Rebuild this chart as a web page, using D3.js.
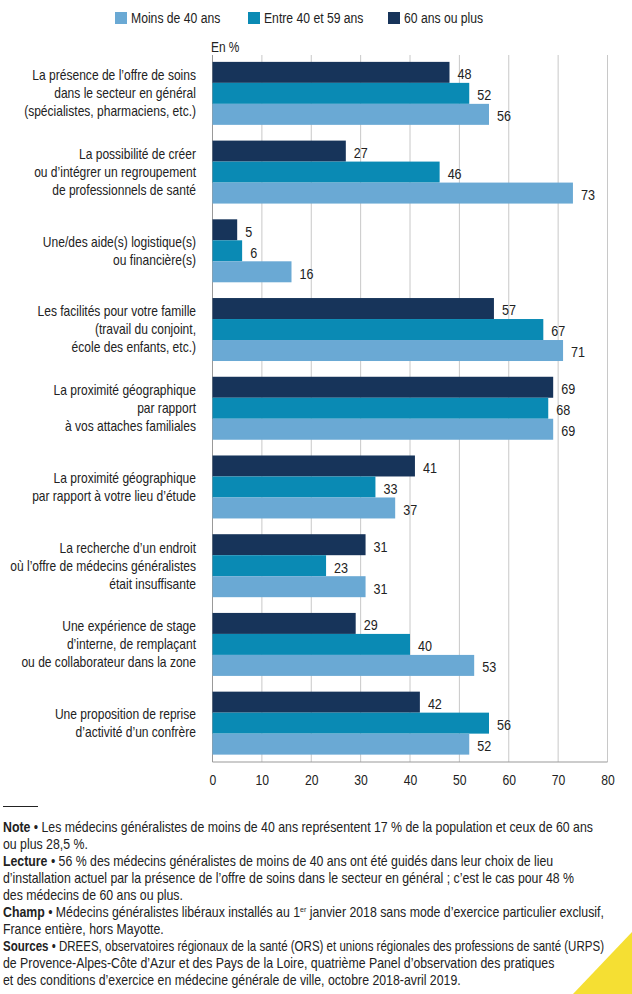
<!DOCTYPE html>
<html><head><meta charset="utf-8">
<script src="https://cdn.jsdelivr.net/npm/d3@7"></script>
<style>
html,body{margin:0;padding:0;background:#fff;}
svg{display:block;font-family:"Liberation Sans",Arial,sans-serif;}
</style></head>
<body><svg id="c" width="632" height="994"></svg>
<script>
const categories = [
  ["La présence de l\u2019offre de soins","dans le secteur en général","(spécialistes, pharmaciens, etc.)"],
  ["La possibilité de créer","ou d\u2019intégrer un regroupement","de professionnels de santé"],
  ["Une/des aide(s) logistique(s)","ou financière(s)"],
  ["Les facilités pour votre famille","(travail du conjoint,","école des enfants, etc.)"],
  ["La proximité géographique","par rapport","à vos attaches familiales"],
  ["La proximité géographique","par rapport à votre lieu d\u2019étude"],
  ["La recherche d\u2019un endroit","où l\u2019offre de médecins généralistes","était insuffisante"],
  ["Une expérience de stage","d\u2019interne, de remplaçant","ou de collaborateur dans la zone"],
  ["Une proposition de reprise","d\u2019activité d\u2019un confrère"]
];
const seriesNames = ["Moins de 40 ans","Entre 40 et 59 ans","60 ans ou plus"];
const moins40 = [56,73,16,71,69,37,31,53,52];
const entre40_59 = [52,46,6,67,68,33,23,40,56];
const plus60 = [48,27,5,57,69,41,31,29,42];
const xTicks = [0,10,20,30,40,50,60,70,80];
const colors = ["#6aa9d4","#0a8ab4","#17345a"];

const svg = d3.select("#c");
const x = d3.scaleLinear().domain([0,80]).range([212.5,607.5]);
const y = d3.scaleBand().domain(d3.range(categories.length)).range([54,762.5]).paddingInner(0.2).paddingOuter(0.1);
const drawOrder = [2,1,0];
const seriesVals = [moins40, entre40_59, plus60];
const sub = d3.scaleBand().domain(drawOrder).range([0,y.bandwidth()]);

function ctext(parent, px, py, s, size, anchor){
  const g = parent.append("g").attr("transform",`translate(${px},${py}) scale(${s},1)`);
  return g.append("text").attr("x",0).attr("y",0).attr("font-size",size).attr("fill","#222")
    .attr("text-anchor",anchor||"start");
}

// grid
svg.append("g").selectAll("line").data(xTicks).join("line")
  .attr("x1",d=>x(d)).attr("x2",d=>x(d)).attr("y1",55).attr("y2",762)
  .attr("stroke",d=>d===0?"#999":"#c8c8c8").attr("stroke-width",1);
svg.append("line").attr("x1",x(0)).attr("x2",x(80)).attr("y1",762).attr("y2",762).attr("stroke","#999");

// axis labels
const ax = svg.append("g").attr("transform","translate(0,762)")
  .call(d3.axisBottom(x).tickValues(xTicks).tickSize(0).tickPadding(13).tickFormat(d3.format("d")));
ax.select(".domain").remove();
ax.selectAll("text").attr("font-size",14).attr("fill","#222").attr("font-family","Liberation Sans, Arial, sans-serif")
  .attr("transform","scale(0.87,1)");

ctext(svg,211,52,0.85,14).text("En %");

// bars
const groups = svg.append("g").selectAll("g").data(categories).join("g")
  .attr("transform",(d,i)=>`translate(0,${y(i)})`);
drawOrder.forEach(s=>{
  groups.append("rect").attr("x",x(0)).attr("y",sub(s))
    .attr("width",(d,i)=>x(seriesVals[s][i])-x(0)).attr("height",sub.bandwidth())
    .attr("fill",colors[s]);
  groups.each(function(d,i){
    ctext(d3.select(this), x(seriesVals[s][i])+8, sub(s)+sub.bandwidth()/2+2, 0.9, 14)
      .attr("dy","0.35em").text(seriesVals[s][i]);
  });
});

// category labels
groups.each(function(lines,i){
  const g = d3.select(this);
  const lh = 18, cy = y.bandwidth()/2;
  lines.forEach((l,k)=>{
    ctext(g,196,cy + (k-(lines.length-1)/2)*lh,0.86,14,"end").attr("dy","0.35em").text(l);
  });
});

// legend
const legX = [115,248,388];
seriesNames.forEach((n,i)=>{
  svg.append("rect").attr("x",legX[i]).attr("y",12).attr("width",12).attr("height",12).attr("fill",colors[i]);
  ctext(svg,legX[i]+16,18,0.87,14).attr("dy","0.35em").text(n);
});

// yellow triangle
svg.append("path").attr("d","M632,932 L632,994 L573,994 Z").attr("fill","#f5df33");

// notes
svg.append("line").attr("x1",3).attr("x2",38).attr("y1",806.5).attr("y2",806.5).attr("stroke","#222").attr("stroke-width",1.2);
const notes = [
  [["Note",true],[" \u2022 Les médecins généralistes de moins de 40 ans représentent 17 % de la population et ceux de 60 ans",false]],
  [["ou plus 28,5 %.",false]],
  [["Lecture",true],[" \u2022 56 % des médecins généralistes de moins de 40 ans ont été guidés dans leur choix de lieu",false]],
  [["d\u2019installation actuel par la présence de l\u2019offre de soins dans le secteur en général ; c\u2019est le cas pour 48 %",false]],
  [["des médecins de 60 ans ou plus.",false]],
  [["Champ",true],[" \u2022 Médecins généralistes libéraux installés au 1",false],["er",false,"sup"],[" janvier 2018 sans mode d\u2019exercice particulier exclusif,",false,"after"]],
  [["France entière, hors Mayotte.",false]],
  [["Sources",true],[" \u2022 DREES, observatoires régionaux de la santé (ORS) et unions régionales des professions de santé (URPS)",false]],
  [["de Provence-Alpes-Côte d\u2019Azur et des Pays de la Loire, quatrième Panel d\u2019observation des pratiques",false]],
  [["et des conditions d\u2019exercice en médecine générale de ville, octobre 2018-avril 2019.",false]]
];
const maxNoteW = 601;
notes.forEach((parts,i)=>{
  const t = ctext(svg,3,826.5+i*17.1,0.88,14).attr("y",5);
  parts.forEach(p=>{
    const ts = t.append("tspan").text(p[0]);
    if(p[1]) ts.attr("font-weight","bold");
    if(p[2]==="sup") ts.attr("font-size",8).attr("dy",-5);
    if(p[2]==="after") ts.attr("dy",5);
  });
  const w = t.node().getComputedTextLength();
  const s = Math.min(0.88, maxNoteW / w);
  d3.select(t.node().parentNode).attr("transform",`translate(3,${826.5+i*17.1}) scale(${s},1)`);
});
</script></body></html>
